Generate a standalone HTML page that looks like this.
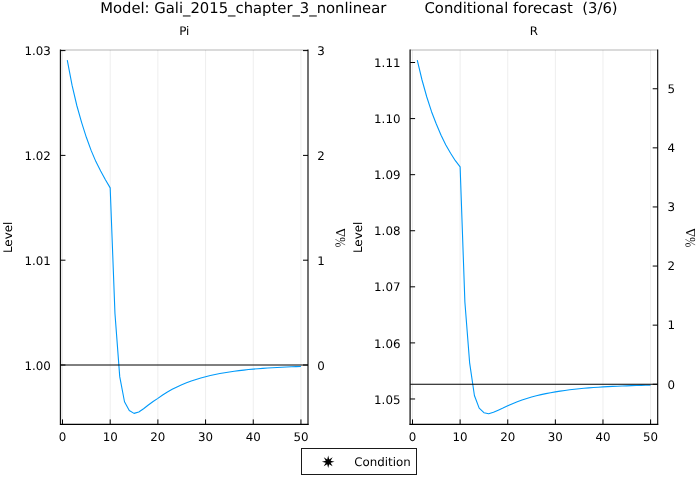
<!DOCTYPE html><html><head><meta charset="utf-8"><title>Conditional forecast</title>
<style>html,body{margin:0;padding:0;background:#fff}svg{display:block}text{font-family:"DejaVu Sans","Liberation Sans",sans-serif;fill:#000;text-rendering:geometricPrecision}</style></head><body>
<svg width="700" height="500" viewBox="0 0 700 500">
<rect width="700" height="500" fill="#fff"/>
<text x="100.2" y="13" font-size="14.8" xml:space="preserve">Model: Gali_2015_chapter_3_nonlinear</text>
<text x="424.5" y="13" font-size="14.8" xml:space="preserve">Conditional forecast  (3/6)</text>
<line x1="62.50" y1="50.0" x2="62.50" y2="424.4" stroke="#000" stroke-opacity="0.1" stroke-width="0.7"/>
<line x1="110.19" y1="50.0" x2="110.19" y2="424.4" stroke="#000" stroke-opacity="0.1" stroke-width="0.7"/>
<line x1="157.88" y1="50.0" x2="157.88" y2="424.4" stroke="#000" stroke-opacity="0.1" stroke-width="0.7"/>
<line x1="205.57" y1="50.0" x2="205.57" y2="424.4" stroke="#000" stroke-opacity="0.1" stroke-width="0.7"/>
<line x1="253.26" y1="50.0" x2="253.26" y2="424.4" stroke="#000" stroke-opacity="0.1" stroke-width="0.7"/>
<line x1="300.95" y1="50.0" x2="300.95" y2="424.4" stroke="#000" stroke-opacity="0.1" stroke-width="0.7"/>
<line x1="60.45" y1="50.0" x2="308.0" y2="50.0" stroke="#000" stroke-opacity="0.145" stroke-width="2"/>
<polyline points="67.27,60.10 72.04,85.20 76.81,105.50 81.58,122.30 86.34,137.30 91.11,150.40 95.88,161.60 100.65,171.00 105.42,179.80 110.19,187.90 114.96,313.50 119.73,376.65 124.50,401.75 129.27,410.50 134.03,413.40 138.80,412.00 143.57,408.75 148.34,405.00 153.11,401.50 157.88,398.35 162.65,395.03 167.42,392.04 172.19,389.35 176.96,386.93 181.73,384.75 186.49,382.80 191.26,381.04 196.03,379.46 200.80,378.03 205.57,376.76 210.34,375.59 215.11,374.53 219.88,373.58 224.65,372.73 229.41,371.96 234.18,371.26 238.95,370.64 243.72,370.08 248.49,369.57 253.26,369.11 258.03,368.70 262.80,368.34 267.57,368.00 272.34,367.70 277.11,367.43 281.87,367.19 286.64,366.97 291.41,366.78 296.18,366.60 300.95,366.44" fill="none" stroke="#009AFA" stroke-width="1.1" stroke-linejoin="round"/>
<line x1="60.45" y1="365.0" x2="308.0" y2="365.0" stroke="#000" stroke-width="1"/>
<line x1="60.45" y1="49.5" x2="60.45" y2="424.9" stroke="#111" stroke-width="1.25"/>
<line x1="59.95" y1="424.4" x2="308.5" y2="424.4" stroke="#000" stroke-width="1.1"/>
<line x1="308.0" y1="49.5" x2="308.0" y2="424.9" stroke="#000" stroke-width="1.1"/>
<line x1="62.50" y1="424.4" x2="62.50" y2="419.4" stroke="#000" stroke-width="1"/>
<text x="62.50" y="441" font-size="11.84" text-anchor="middle">0</text>
<line x1="110.19" y1="424.4" x2="110.19" y2="419.4" stroke="#000" stroke-width="1"/>
<text x="110.19" y="441" font-size="11.84" text-anchor="middle">10</text>
<line x1="157.88" y1="424.4" x2="157.88" y2="419.4" stroke="#000" stroke-width="1"/>
<text x="157.88" y="441" font-size="11.84" text-anchor="middle">20</text>
<line x1="205.57" y1="424.4" x2="205.57" y2="419.4" stroke="#000" stroke-width="1"/>
<text x="205.57" y="441" font-size="11.84" text-anchor="middle">30</text>
<line x1="253.26" y1="424.4" x2="253.26" y2="419.4" stroke="#000" stroke-width="1"/>
<text x="253.26" y="441" font-size="11.84" text-anchor="middle">40</text>
<line x1="300.95" y1="424.4" x2="300.95" y2="419.4" stroke="#000" stroke-width="1"/>
<text x="300.95" y="441" font-size="11.84" text-anchor="middle">50</text>
<line x1="60.45" y1="50.60" x2="65.45" y2="50.60" stroke="#000" stroke-width="1"/>
<text x="50.8" y="55.20" font-size="11.84" text-anchor="end">1.03</text>
<line x1="60.45" y1="155.40" x2="65.45" y2="155.40" stroke="#000" stroke-width="1"/>
<text x="50.8" y="160.00" font-size="11.84" text-anchor="end">1.02</text>
<line x1="60.45" y1="260.20" x2="65.45" y2="260.20" stroke="#000" stroke-width="1"/>
<text x="50.8" y="264.80" font-size="11.84" text-anchor="end">1.01</text>
<line x1="60.45" y1="365.00" x2="65.45" y2="365.00" stroke="#000" stroke-width="1"/>
<text x="50.8" y="369.60" font-size="11.84" text-anchor="end">1.00</text>
<line x1="308.0" y1="50.60" x2="303.0" y2="50.60" stroke="#000" stroke-width="1"/>
<text x="317.2" y="55.20" font-size="11.84">3</text>
<line x1="308.0" y1="155.40" x2="303.0" y2="155.40" stroke="#000" stroke-width="1"/>
<text x="317.2" y="160.00" font-size="11.84">2</text>
<line x1="308.0" y1="260.20" x2="303.0" y2="260.20" stroke="#000" stroke-width="1"/>
<text x="317.2" y="264.80" font-size="11.84">1</text>
<line x1="308.0" y1="365.00" x2="303.0" y2="365.00" stroke="#000" stroke-width="1"/>
<text x="317.2" y="369.60" font-size="11.84">0</text>
<text x="184.22" y="35.4" font-size="11.84" text-anchor="middle">Pi</text>
<text transform="translate(12.2,237.4) rotate(-90)" font-size="11.84" text-anchor="middle">Level</text>
<text transform="translate(344.9,237.7) rotate(-90)" text-anchor="middle" style="font-family:'Liberation Serif','DejaVu Serif',serif"><tspan font-size="14.5" textLength="10.2" lengthAdjust="spacingAndGlyphs">%</tspan><tspan font-size="13.5">Δ</tspan></text>
<line x1="412.50" y1="50.0" x2="412.50" y2="424.4" stroke="#000" stroke-opacity="0.1" stroke-width="0.7"/>
<line x1="460.12" y1="50.0" x2="460.12" y2="424.4" stroke="#000" stroke-opacity="0.1" stroke-width="0.7"/>
<line x1="507.74" y1="50.0" x2="507.74" y2="424.4" stroke="#000" stroke-opacity="0.1" stroke-width="0.7"/>
<line x1="555.36" y1="50.0" x2="555.36" y2="424.4" stroke="#000" stroke-opacity="0.1" stroke-width="0.7"/>
<line x1="602.98" y1="50.0" x2="602.98" y2="424.4" stroke="#000" stroke-opacity="0.1" stroke-width="0.7"/>
<line x1="650.60" y1="50.0" x2="650.60" y2="424.4" stroke="#000" stroke-opacity="0.1" stroke-width="0.7"/>
<line x1="410.1" y1="50.0" x2="657.7" y2="50.0" stroke="#000" stroke-opacity="0.145" stroke-width="2"/>
<polyline points="417.26,60.10 422.02,80.00 426.79,97.00 431.55,111.70 436.31,124.00 441.07,135.20 445.83,145.00 450.60,153.20 455.36,160.70 460.12,166.80 464.88,302.00 469.64,362.80 474.41,395.50 479.17,408.10 483.93,412.70 488.69,413.70 493.45,412.30 498.22,410.20 502.98,408.10 507.74,405.80 512.50,403.65 517.26,401.72 522.03,399.98 526.79,398.42 531.55,397.02 536.31,395.76 541.07,394.63 545.84,393.61 550.60,392.70 555.36,391.88 560.12,391.12 564.88,390.43 569.65,389.82 574.41,389.26 579.17,388.76 583.93,388.31 588.69,387.91 593.46,387.54 598.22,387.22 602.98,386.92 607.74,386.65 612.50,386.41 617.27,386.20 622.03,386.00 626.79,385.83 631.55,385.67 636.31,385.53 641.08,385.40 645.84,385.29 650.60,385.18" fill="none" stroke="#009AFA" stroke-width="1.1" stroke-linejoin="round"/>
<line x1="410.1" y1="384.25" x2="657.7" y2="384.25" stroke="#000" stroke-width="1"/>
<line x1="410.1" y1="49.5" x2="410.1" y2="424.9" stroke="#111" stroke-width="1.25"/>
<line x1="409.6" y1="424.4" x2="658.2" y2="424.4" stroke="#000" stroke-width="1.1"/>
<line x1="657.7" y1="49.5" x2="657.7" y2="424.9" stroke="#000" stroke-width="1.1"/>
<line x1="412.50" y1="424.4" x2="412.50" y2="419.4" stroke="#000" stroke-width="1"/>
<text x="412.50" y="441" font-size="11.84" text-anchor="middle">0</text>
<line x1="460.12" y1="424.4" x2="460.12" y2="419.4" stroke="#000" stroke-width="1"/>
<text x="460.12" y="441" font-size="11.84" text-anchor="middle">10</text>
<line x1="507.74" y1="424.4" x2="507.74" y2="419.4" stroke="#000" stroke-width="1"/>
<text x="507.74" y="441" font-size="11.84" text-anchor="middle">20</text>
<line x1="555.36" y1="424.4" x2="555.36" y2="419.4" stroke="#000" stroke-width="1"/>
<text x="555.36" y="441" font-size="11.84" text-anchor="middle">30</text>
<line x1="602.98" y1="424.4" x2="602.98" y2="419.4" stroke="#000" stroke-width="1"/>
<text x="602.98" y="441" font-size="11.84" text-anchor="middle">40</text>
<line x1="650.60" y1="424.4" x2="650.60" y2="419.4" stroke="#000" stroke-width="1"/>
<text x="650.60" y="441" font-size="11.84" text-anchor="middle">50</text>
<line x1="410.1" y1="62.50" x2="415.1" y2="62.50" stroke="#000" stroke-width="1"/>
<text x="400.45" y="67.10" font-size="11.84" text-anchor="end">1.11</text>
<line x1="410.1" y1="118.58" x2="415.1" y2="118.58" stroke="#000" stroke-width="1"/>
<text x="400.45" y="123.18" font-size="11.84" text-anchor="end">1.10</text>
<line x1="410.1" y1="174.66" x2="415.1" y2="174.66" stroke="#000" stroke-width="1"/>
<text x="400.45" y="179.26" font-size="11.84" text-anchor="end">1.09</text>
<line x1="410.1" y1="230.74" x2="415.1" y2="230.74" stroke="#000" stroke-width="1"/>
<text x="400.45" y="235.34" font-size="11.84" text-anchor="end">1.08</text>
<line x1="410.1" y1="286.82" x2="415.1" y2="286.82" stroke="#000" stroke-width="1"/>
<text x="400.45" y="291.42" font-size="11.84" text-anchor="end">1.07</text>
<line x1="410.1" y1="342.90" x2="415.1" y2="342.90" stroke="#000" stroke-width="1"/>
<text x="400.45" y="347.50" font-size="11.84" text-anchor="end">1.06</text>
<line x1="410.1" y1="398.98" x2="415.1" y2="398.98" stroke="#000" stroke-width="1"/>
<text x="400.45" y="403.58" font-size="11.84" text-anchor="end">1.05</text>
<line x1="657.7" y1="384.25" x2="652.7" y2="384.25" stroke="#000" stroke-width="1"/>
<text x="667.4499999999999" y="388.55" font-size="11.84">0</text>
<line x1="657.7" y1="325.15" x2="652.7" y2="325.15" stroke="#000" stroke-width="1"/>
<text x="667.4499999999999" y="329.45" font-size="11.84">1</text>
<line x1="657.7" y1="266.05" x2="652.7" y2="266.05" stroke="#000" stroke-width="1"/>
<text x="667.4499999999999" y="270.35" font-size="11.84">2</text>
<line x1="657.7" y1="206.95" x2="652.7" y2="206.95" stroke="#000" stroke-width="1"/>
<text x="667.4499999999999" y="211.25" font-size="11.84">3</text>
<line x1="657.7" y1="147.85" x2="652.7" y2="147.85" stroke="#000" stroke-width="1"/>
<text x="667.4499999999999" y="152.15" font-size="11.84">4</text>
<line x1="657.7" y1="88.75" x2="652.7" y2="88.75" stroke="#000" stroke-width="1"/>
<text x="667.4499999999999" y="93.05" font-size="11.84">5</text>
<text x="533.90" y="35.4" font-size="11.84" text-anchor="middle">R</text>
<text transform="translate(362.2,237.4) rotate(-90)" font-size="11.84" text-anchor="middle">Level</text>
<text transform="translate(694.9,237.7) rotate(-90)" text-anchor="middle" style="font-family:'Liberation Serif','DejaVu Serif',serif"><tspan font-size="14.5" textLength="10.2" lengthAdjust="spacingAndGlyphs">%</tspan><tspan font-size="13.5">Δ</tspan></text>
<rect x="301.5" y="448.5" width="115" height="26" fill="#fff" stroke="#1a1a1a" stroke-width="1"/>
<polygon points="328.20,455.50 327.21,459.40 323.75,457.35 325.80,460.81 321.90,461.80 325.80,462.79 323.75,466.25 327.21,464.20 328.20,468.10 329.19,464.20 332.65,466.25 330.60,462.79 334.50,461.80 330.60,460.81 332.65,457.35 329.19,459.40" fill="#000"/>
<text x="354.3" y="466" font-size="11.84">Condition</text>
</svg></body></html>
